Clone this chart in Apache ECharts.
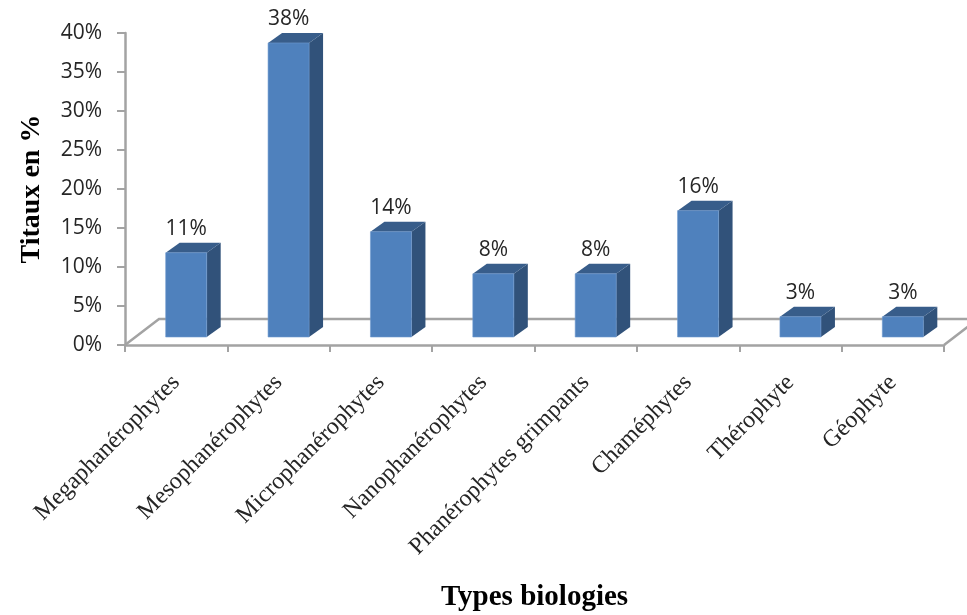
<!DOCTYPE html>
<html><head><meta charset="utf-8">
<style>html,body{margin:0;padding:0;background:#fff}#c{width:967px;height:615px}</style>
<script src="https://cdn.jsdelivr.net/npm/echarts@6/dist/echarts.min.js"></script>
</head><body><div id="c"></div>
<script>
const categories = ["Megaphanérophytes","Mesophanérophytes","Microphanérophytes","Nanophanérophytes","Phanérophytes grimpants","Chaméphytes","Thérophyte","Géophyte"];
const values = [10.8,37.7,13.5,8.1,8.1,16.2,2.6,2.6];
const yTicks = {min:0,max:40,interval:5};

const chart = echarts.init(document.getElementById('c'),null,{renderer:'canvas'});
const FRONT='#4f81bd',SIDE='#31527a',TOP='#385d8a',AXIS='#a3a3a3';
const LIFT=8, DX=14, DY=10, W=41, SHIFT=10;

function renderBar(params,api){
  const c=api.coord([api.value(0),api.value(1)]);
  const base=api.coord([api.value(0),0]);
  const l=c[0]+SHIFT-W/2, r=l+W, t=c[1]-LIFT, b=base[1]-LIFT;
  return {type:'group',children:[
    {type:'polygon',shape:{points:[[r,t],[r+DX,t-DY],[r+DX,b-DY],[r,b]]},style:{fill:SIDE}},
    {type:'polygon',shape:{points:[[l,t],[l+DX,t-DY],[r+DX,t-DY],[r,t]]},style:{fill:TOP}},
    {type:'rect',shape:{x:l,y:t,width:W,height:b-t},style:{fill:FRONT,stroke:'#6f9ad0',lineWidth:0.6}},
    {type:'text',style:{x:(l+r)/2,y:t-23.5,text:Math.round(api.value(1))+'%',fill:'#262626',
      font:'21px "Open Sans"',align:'center',verticalAlign:'middle'}}
  ]};
}
function renderFloor(params,api){
  const cs=params.coordSys;
  const x0=cs.x,x1=cs.x+cs.width,y=cs.y+cs.height;
  const st={stroke:AXIS,lineWidth:2.5,fill:null};
  return {type:'group',children:[
    {type:'polyline',shape:{points:[[x0,y],[x0+34,y-26],[x1+34,y-26]]},style:st},
    {type:'line',shape:{x1:x1,y1:y,x2:x1+34,y2:y-26},style:st}
  ]};
}
chart.setOption({
  animation:false,
  backgroundColor:'#fff',
  grid:{left:125,right:23,top:33,bottom:270,containLabel:false,outerBoundsMode:'none'},
  xAxis:{type:'category',data:categories,
    axisLine:{lineStyle:{color:AXIS,width:2.5}},
    axisTick:{show:true,length:7,alignWithLabel:false,lineStyle:{color:AXIS,width:2}},
    axisLabel:{rotate:45,interval:0,margin:34,color:'#262626',fontFamily:'Liberation Serif',fontSize:24},
    name:'Types biologies',nameLocation:'middle',nameGap:238,nameMoveOverlap:false,
    nameTextStyle:{fontFamily:'Liberation Serif',fontWeight:'bold',fontSize:29,color:'#000'}},
  yAxis:{type:'value',min:yTicks.min,max:yTicks.max,interval:yTicks.interval,
    splitLine:{show:false},
    axisLine:{show:true,lineStyle:{color:AXIS,width:2.5}},
    axisTick:{show:true,length:8,lineStyle:{color:AXIS,width:2}},
    axisLabel:{formatter:'{value}%',margin:23,padding:[8,0,0,0],color:'#262626',fontFamily:'Open Sans',fontSize:21},
    name:'Titaux en %',nameLocation:'middle',nameGap:79,nameMoveOverlap:false,
    nameTextStyle:{fontFamily:'Liberation Serif',fontWeight:'bold',fontSize:28,color:'#000'}},
  series:[
    {type:'custom',clip:false,silent:true,z:1,renderItem:renderFloor,data:[[0,0]],encode:{x:0,y:1}},
    {type:'custom',clip:false,z:2,renderItem:renderBar,
      data:values.map((v,i)=>[i,v]),encode:{x:0,y:1}}
  ]
});
</script></body></html>
